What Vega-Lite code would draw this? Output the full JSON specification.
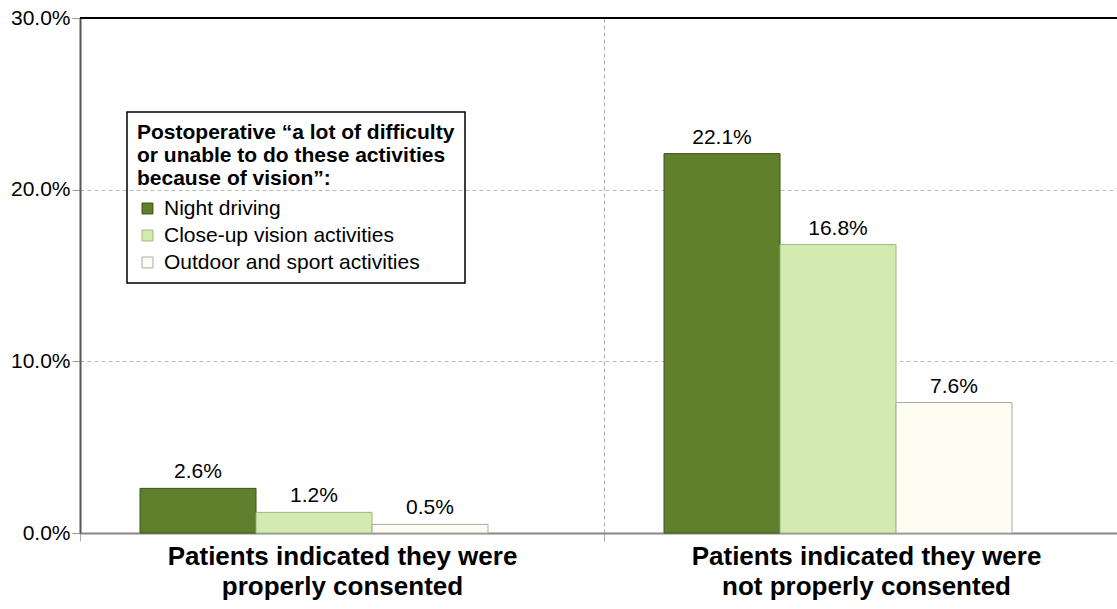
{
  "$schema": "https://vega.github.io/schema/vega-lite/v6.json",
  "autosize": {"type": "none"},
  "width": 1037,
  "height": 515,
  "padding": {"left": 80, "top": 18, "right": 0, "bottom": 76},
  "config": {
    "view": {"stroke": null},
    "font": "Liberation Sans",
    "legend": {"strokeWidth": 1.5}
  },
  "data": {
    "values": [
      {"group": "Patients indicated they were|properly consented", "series": "Night driving", "value": 0.026},
      {"group": "Patients indicated they were|properly consented", "series": "Close-up vision activities", "value": 0.012},
      {"group": "Patients indicated they were|properly consented", "series": "Outdoor and sport activities", "value": 0.005},
      {"group": "Patients indicated they were|not properly consented", "series": "Night driving", "value": 0.221},
      {"group": "Patients indicated they were|not properly consented", "series": "Close-up vision activities", "value": 0.168},
      {"group": "Patients indicated they were|not properly consented", "series": "Outdoor and sport activities", "value": 0.076}
    ]
  },
  "layer": [
    {
      "mark": {"type": "rule", "color": "#000", "strokeWidth": 2},
      "encoding": {"y": {"datum": 0.3, "type": "quantitative", "scale": {"domain": [0, 0.3], "nice": false}}}
    },
    {
      "mark": {"type": "bar", "strokeWidth": 1},
      "encoding": {
        "x": {
          "field": "group", "type": "nominal", "sort": null,
          "scale": {"range": [0, 1048], "paddingInner": 0, "paddingOuter": 0},
          "axis": {
            "title": null,
            "labelExpr": "split(datum.label, '|')",
            "labelFont": "Liberation Sans",
            "labelFontWeight": "bold",
            "labelFontSize": 26,
            "labelColor": "#000",
            "labelLineHeight": 30,
            "labelPadding": 2,
            "labelAngle": 0,
            "labelLimit": 700,
            "tickBand": "extent",
            "tickColor": "#aaa",
            "tickSize": 8,
            "domainColor": "#888",
            "domainWidth": 2,
            "grid": true,
            "gridColor": "#aaa",
            "gridDash": [4, 3]
          }
        },
        "xOffset": {
          "field": "series", "type": "nominal", "sort": null,
          "scale": {"paddingInner": 0, "paddingOuter": 0.7586, "align": 0.341}
        },
        "y": {
          "field": "value", "type": "quantitative",
          "scale": {"domain": [0, 0.3], "nice": false},
          "axis": {
            "title": null,
            "values": [0, 0.1, 0.2, 0.3],
            "format": ".1%",
            "labelFont": "Liberation Sans",
            "labelFontSize": 21,
            "labelColor": "#000",
            "labelPadding": 2,
            "tickColor": "#999",
            "tickSize": 8,
            "domainColor": "#555",
            "domainWidth": 2,
            "grid": true,
            "gridColor": "#bbb",
            "gridDash": [4, 3]
          }
        },
        "fill": {
          "field": "series", "type": "nominal", "sort": null,
          "scale": {
            "domain": ["Night driving", "Close-up vision activities", "Outdoor and sport activities"],
            "range": ["#5f7f2d", "#d3ebb1", "#fdfdf2"]
          },
          "legend": {
            "orient": "none",
            "legendX": 47,
            "legendY": 94,
            "title": ["Postoperative “a lot of difficulty", "or unable to do these activities", "because of vision”:"],
            "titleFont": "Liberation Sans",
            "titleFontSize": 21,
            "titleFontWeight": "bold",
            "titleColor": "#000",
            "titleLineHeight": 23,
            "titleLimit": 500,
            "titlePadding": 9,
            "labelFont": "Liberation Sans",
            "labelFontSize": 21,
            "labelColor": "#000",
            "labelLimit": 500,
            "labelOffset": 6,
            "symbolType": "square",
            "symbolSize": 120,
            "symbolStrokeColor": "#777",
            "symbolStrokeWidth": 1,
            "rowPadding": 5,
            "strokeColor": "#000",
            "padding": 10
          }
        },
        "stroke": {
          "field": "series", "type": "nominal", "sort": null,
          "scale": {
            "domain": ["Night driving", "Close-up vision activities", "Outdoor and sport activities"],
            "range": ["#3d5619", "#9db77d", "#aaaaaa"]
          },
          "legend": null
        }
      }
    },
    {
      "mark": {"type": "text", "baseline": "middle", "dy": -16, "fontSize": 21, "font": "Liberation Sans", "color": "#000"},
      "encoding": {
        "x": {"field": "group", "type": "nominal", "sort": null},
        "xOffset": {"field": "series", "type": "nominal", "sort": null},
        "y": {"field": "value", "type": "quantitative"},
        "text": {"field": "value", "type": "quantitative", "format": ".1%"}
      }
    }
  ]
}
